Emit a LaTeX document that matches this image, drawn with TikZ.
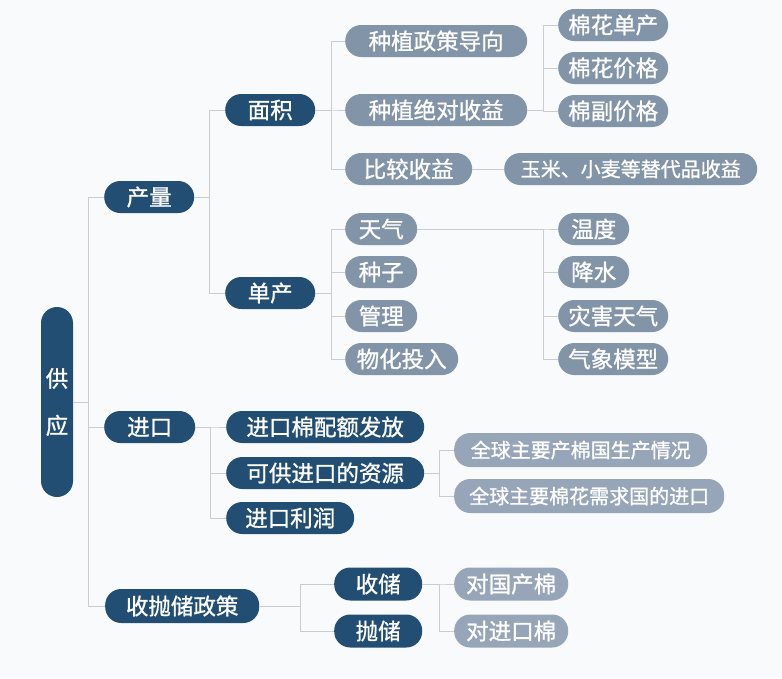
\documentclass[tikz,border=0pt]{standalone}
\usepackage{fontspec}
\newfontfamily\cjk[FakeBold=1]{Noto Sans CJK SC}
\definecolor{deepblue}{RGB}{35,78,115}
\definecolor{greyblue}{RGB}{130,148,168}
\definecolor{paleblue}{RGB}{150,166,184}
\definecolor{linegrey}{RGB}{200,205,212}
\definecolor{bggrey}{RGB}{248,250,252}
\begin{document}
\begin{tikzpicture}[x=1pt,y=-1pt,
  box/.style={rectangle,rounded corners=16pt,minimum height=32pt,inner sep=0pt,
    anchor=west,text=white,font=\cjk\fontsize{22.5}{26}\selectfont},
  dark/.style={box,fill=deepblue},
  light/.style={box,fill=greyblue},
  pale/.style={box,fill=paleblue},
  small/.style={font=\cjk\fontsize{20}{24}\selectfont},
  link/.style={draw=linegrey,line width=0.8pt}]
\fill[bggrey] (0,0) rectangle (782,678);
\useasboundingbox (0,0) rectangle (782,678);

% root
\node[dark,anchor=center,minimum width=32pt,minimum height=190pt,align=center,
  font=\cjk\fontsize{22.5}{47}\selectfont] (gongying) at (57,402) {供\\应};

% first level
\node[dark,minimum width=90pt] (chanliang) at (104,197) {产量};
\node[dark,minimum width=91pt] (jinkou) at (104,427) {进口};
\node[dark,minimum width=154pt,minimum height=34pt] (shoupao) at (105,606) {收抛储政策};

% production
\node[dark,minimum width=90pt] (mianji) at (225,110) {面积};
\node[dark,minimum width=90pt] (danchan) at (225,293) {单产};

\node[light,minimum width=182pt] (zhengce) at (345,41) {种植政策导向};
\node[light,minimum width=182pt] (shouyi) at (345,110) {种植绝对收益};
\node[light,minimum width=127pt] (bijiao) at (345,169) {比较收益};
\node[light,small,minimum width=253pt] (tidai) at (504,169) {玉米、小麦等替代品收益};

\node[light,minimum width=110pt] (mhdanchan) at (558,25) {棉花单产};
\node[light,minimum width=110pt] (mhjiage) at (558,68) {棉花价格};
\node[light,minimum width=110pt] (mfjiage) at (558,111) {棉副价格};

\node[light,minimum width=72pt] (tianqi) at (345,229) {天气};
\node[light,minimum width=72pt] (zhongzi) at (345,272) {种子};
\node[light,minimum width=72pt] (guanli) at (345,316) {管理};
\node[light,minimum width=113pt] (touru) at (345,359) {物化投入};

\node[light,minimum width=71pt] (wendu) at (558,229) {温度};
\node[light,minimum width=71pt] (jiangshui) at (558,272) {降水};
\node[light,minimum width=110pt] (zaihai) at (558,316) {灾害天气};
\node[light,minimum width=110pt] (moxing) at (558,359) {气象模型};

% import
\node[dark,minimum width=198pt] (peie) at (226,427) {进口棉配额发放};
\node[dark,minimum width=198pt] (ziyuan) at (226,473) {可供进口的资源};
\node[dark,minimum width=128pt] (lirun) at (226,518) {进口利润};

\node[pale,small,minimum width=253pt,minimum height=34pt] (shengchan) at (454,450) {全球主要产棉国生产情况};
\node[pale,small,minimum width=270pt,minimum height=34pt] (xuqiu) at (454,496) {全球主要棉花需求国的进口};

% reserve policy
\node[dark,minimum width=88pt,minimum height=33pt] (shouchu) at (334,584) {收储};
\node[dark,minimum width=88pt,minimum height=33pt] (paochu) at (334,631) {抛储};
\node[pale,minimum width=114pt,minimum height=33pt] (guochan) at (454,584) {对国产棉};
\node[pale,minimum width=114pt,minimum height=33pt] (jinkoumian) at (454,631) {对进口棉};

% connectors
\foreach \c in {chanliang,jinkou,shoupao}
  \draw[link] (gongying.east) -- ++(15,0) |- (\c.west);
\foreach \c in {mianji,danchan}
  \draw[link] (chanliang.east) -- ++(15,0) |- (\c.west);
\foreach \c in {zhengce,shouyi,bijiao}
  \draw[link] (mianji.east) -- ++(16,0) |- (\c.west);
\foreach \c in {tianqi,zhongzi,guanli,touru}
  \draw[link] (danchan.east) -- ++(16,0) |- (\c.west);
\foreach \c in {mhdanchan,mhjiage,mfjiage}
  \draw[link] (shouyi.east) -- ++(16,0) |- (\c.west);
\draw[link] (bijiao) -- (tidai);
\foreach \c in {wendu,jiangshui,zaihai,moxing}
  \draw[link] (tianqi.east) -- ++(126,0) |- (\c.west);
\foreach \c in {peie,ziyuan,lirun}
  \draw[link] (jinkou.east) -- ++(15,0) |- (\c.west);
\foreach \c in {shengchan,xuqiu}
  \draw[link] (ziyuan.east) -- ++(15,0) |- (\c.west);
\foreach \c in {shouchu,paochu}
  \draw[link] (shoupao.east) -- ++(41,0) |- (\c.west);
\foreach \c in {guochan,jinkoumian}
  \draw[link] (shouchu.east) -- ++(17,0) |- (\c.west);
\end{tikzpicture}
\end{document}
